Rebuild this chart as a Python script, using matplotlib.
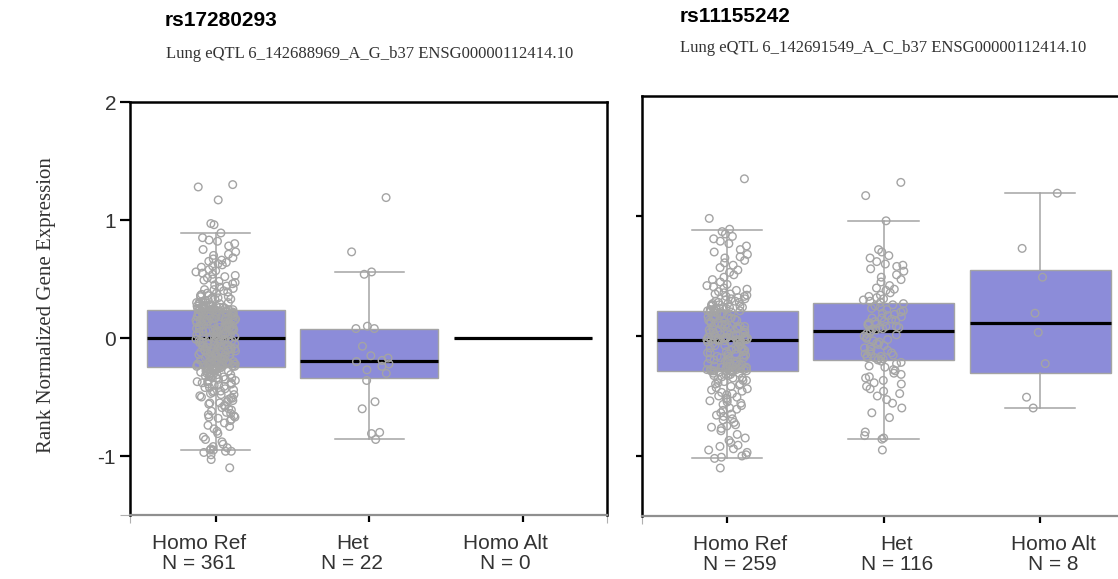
import matplotlib
matplotlib.use('Agg')
import matplotlib.pyplot as plt
import matplotlib.transforms as mtransforms
import numpy as np

plt.rcParams['font.family'] = ['Liberation Sans', 'DejaVu Sans']

groups = ['Homo Ref', 'Het', 'Homo Alt']

# ---- rs17280293 (left panel) ----
left_counts = [361, 22, 0]
left_ref = [
    1.30, 1.28, 1.17, 0.97, 0.96, 0.89, 0.85, 0.83, 0.82, 0.80,
    0.78, 0.75, 0.73, 0.71, 0.70, 0.68, 0.67, 0.66, 0.65, 0.64,
    0.63, 0.62, 0.61, 0.60, 0.58, 0.57, 0.56, 0.55, 0.54, 0.53,
    0.52, 0.51, 0.50, 0.49, 0.48, 0.47, 0.46, 0.45, 0.44, 0.43,
    0.42, 0.41, 0.41, 0.40, 0.39, 0.38, 0.38, 0.37, 0.36, 0.36,
    0.35, 0.35, 0.34, 0.34, 0.33, 0.33, 0.32, 0.32, 0.31, 0.31,
    0.30, 0.30, 0.30, 0.29, 0.29, 0.29, 0.28, 0.28, 0.28, 0.27,
    0.27, 0.27, 0.27, 0.26, 0.26, 0.26, 0.26, 0.25, 0.25, 0.25,
    0.25, 0.25, 0.24, 0.24, 0.24, 0.24, 0.24, 0.24, 0.24, 0.24,
    0.23, 0.23, 0.23, 0.22, 0.22, 0.22, 0.22, 0.21, 0.21, 0.21,
    0.21, 0.20, 0.20, 0.20, 0.20, 0.19, 0.19, 0.19, 0.19, 0.18,
    0.18, 0.18, 0.18, 0.17, 0.17, 0.17, 0.17, 0.16, 0.16, 0.16,
    0.16, 0.15, 0.15, 0.15, 0.15, 0.14, 0.14, 0.14, 0.14, 0.13,
    0.13, 0.13, 0.13, 0.12, 0.12, 0.12, 0.12, 0.11, 0.11, 0.11,
    0.11, 0.10, 0.10, 0.10, 0.10, 0.09, 0.09, 0.09, 0.08, 0.08,
    0.08, 0.08, 0.07, 0.07, 0.07, 0.07, 0.06, 0.06, 0.06, 0.06,
    0.05, 0.05, 0.05, 0.05, 0.04, 0.04, 0.04, 0.04, 0.03, 0.03,
    0.03, 0.03, 0.02, 0.02, 0.02, 0.02, 0.01, 0.01, 0.01, 0.01,
    0.00,
    -0.01, -0.01, -0.01, -0.02, -0.02, -0.02, -0.03, -0.03, -0.03, -0.04,
    -0.04, -0.04, -0.05, -0.05, -0.05, -0.06, -0.06, -0.06, -0.07, -0.07,
    -0.07, -0.08, -0.08, -0.08, -0.08, -0.09, -0.09, -0.09, -0.10, -0.10,
    -0.10, -0.10, -0.11, -0.11, -0.11, -0.12, -0.12, -0.12, -0.12, -0.13,
    -0.13, -0.13, -0.14, -0.14, -0.14, -0.14, -0.15, -0.15, -0.15, -0.16,
    -0.16, -0.16, -0.16, -0.17, -0.17, -0.17, -0.18, -0.18, -0.18, -0.18,
    -0.19, -0.19, -0.19, -0.20, -0.20, -0.20, -0.20, -0.21, -0.21, -0.21,
    -0.21, -0.22, -0.22, -0.22, -0.22, -0.23, -0.23, -0.23, -0.23, -0.23,
    -0.24, -0.24, -0.24, -0.24, -0.24, -0.24, -0.25, -0.25, -0.25, -0.25,
    -0.26, -0.26, -0.27, -0.27, -0.27, -0.28, -0.28, -0.28, -0.29, -0.29,
    -0.30, -0.30, -0.30, -0.31, -0.31, -0.32, -0.32, -0.33, -0.33, -0.34,
    -0.34, -0.35, -0.35, -0.36, -0.36, -0.37, -0.37, -0.38, -0.38, -0.39,
    -0.39, -0.40, -0.40, -0.41, -0.42, -0.42, -0.43, -0.44, -0.45, -0.45,
    -0.46, -0.47, -0.48, -0.48, -0.49, -0.50, -0.51, -0.51, -0.52, -0.53,
    -0.54, -0.55, -0.55, -0.56, -0.57, -0.58, -0.59, -0.60, -0.61, -0.62,
    -0.63, -0.64, -0.65, -0.66, -0.67, -0.67, -0.68, -0.69, -0.70, -0.72,
    -0.74, -0.75, -0.77, -0.79, -0.81, -0.84, -0.86, -0.88, -0.90, -0.92,
    -0.93, -0.94, -0.95, -0.95, -0.96, -0.96, -0.97, -0.99, -1.03, -1.10,
]
left_het = [1.19, 0.73, 0.56, 0.54, 0.10, 0.08, 0.08, -0.07, -0.15, -0.17, -0.19,
            -0.20, -0.22, -0.24, -0.27, -0.30, -0.36, -0.54, -0.60, -0.80, -0.81, -0.86]
left_alt = []
left_q1 = [-0.246, -0.34, 0.0]
left_med = [0.0, -0.195, 0.0]
left_q3 = [0.237, 0.076, 0.0]
left_lo = [-0.95, -0.855, 0.0]
left_hi = [0.89, 0.56, 0.0]

# ---- rs11155242 (right panel) ----
right_counts = [259, 116, 8]
right_ref = [
    1.31, 0.98, 0.89, 0.87, 0.85, 0.83, 0.81, 0.79, 0.77, 0.75,
    0.72, 0.70, 0.68, 0.66, 0.65, 0.63, 0.61, 0.59, 0.57, 0.55,
    0.53, 0.51, 0.49, 0.47, 0.45, 0.43, 0.42, 0.41, 0.40, 0.39,
    0.38, 0.37, 0.36, 0.35, 0.35, 0.34, 0.33, 0.33, 0.32, 0.31,
    0.31, 0.30, 0.29, 0.29, 0.28, 0.28, 0.27, 0.27, 0.26, 0.26,
    0.25, 0.25, 0.24, 0.24, 0.24, 0.23, 0.23, 0.23, 0.22, 0.22,
    0.22, 0.21, 0.21, 0.21,
    0.20, 0.20, 0.19, 0.19, 0.18, 0.18, 0.17, 0.17, 0.16, 0.16,
    0.15, 0.15, 0.14, 0.14, 0.13, 0.13, 0.12, 0.12, 0.11, 0.11,
    0.10, 0.10, 0.09, 0.09, 0.08, 0.08, 0.07, 0.07, 0.07, 0.06,
    0.06, 0.05, 0.05, 0.05, 0.04, 0.04, 0.03, 0.03, 0.03, 0.02,
    0.02, 0.01, 0.01, 0.01, 0.00, 0.00, 0.00, -0.01, -0.01, -0.01,
    -0.01, -0.02, -0.02, -0.02, -0.02, -0.03, -0.03, -0.03, -0.03, -0.03,
    -0.03, -0.03, -0.03, -0.03,
    -0.04,
    -0.04, -0.04, -0.05, -0.05, -0.05, -0.06, -0.06, -0.07, -0.07, -0.08,
    -0.08, -0.09, -0.09, -0.10, -0.10, -0.11, -0.11, -0.12, -0.12, -0.13,
    -0.13, -0.14, -0.14, -0.15, -0.15, -0.16, -0.16, -0.17, -0.17, -0.18,
    -0.18, -0.19, -0.19, -0.20, -0.20, -0.21, -0.21, -0.22, -0.22, -0.23,
    -0.23, -0.23, -0.24, -0.24, -0.25, -0.25, -0.25, -0.26, -0.26, -0.26,
    -0.27, -0.27, -0.27, -0.27, -0.28, -0.28, -0.28, -0.28, -0.29, -0.29,
    -0.29, -0.29, -0.29, -0.29, -0.29,
    -0.30, -0.30, -0.31, -0.31, -0.32, -0.32, -0.33, -0.33, -0.34, -0.35,
    -0.35, -0.36, -0.37, -0.37, -0.38, -0.39, -0.40, -0.40, -0.41, -0.42,
    -0.43, -0.44, -0.45, -0.46, -0.47, -0.48, -0.49, -0.50, -0.51, -0.52,
    -0.53, -0.54, -0.55, -0.56, -0.57, -0.58, -0.60, -0.61, -0.62, -0.64,
    -0.65, -0.66, -0.67, -0.69, -0.70, -0.72, -0.74, -0.75, -0.76, -0.77,
    -0.79, -0.82, -0.85, -0.87, -0.89, -0.91, -0.92, -0.94, -0.95, -0.97,
    -0.99, -1.00, -1.01, -1.02, -1.10,
]
right_het = [
    1.28, 1.17, 0.96, 0.72, 0.70, 0.67, 0.65, 0.62, 0.60, 0.59,
    0.58, 0.56, 0.54, 0.51, 0.49, 0.47, 0.45, 0.42, 0.40, 0.39,
    0.38, 0.36, 0.34, 0.33, 0.32, 0.31, 0.30, 0.29, 0.28,
    0.27, 0.26, 0.25, 0.24, 0.23, 0.22, 0.21, 0.20, 0.19, 0.18,
    0.17, 0.16, 0.15, 0.15, 0.14, 0.13, 0.12, 0.12, 0.11, 0.10,
    0.10, 0.09, 0.08, 0.08, 0.07, 0.07, 0.06, 0.06, 0.05,
    0.04,
    0.03, 0.02, 0.01, 0.00, -0.01, -0.02, -0.03, -0.04, -0.05, -0.06,
    -0.07, -0.08, -0.09, -0.10, -0.11, -0.12, -0.13, -0.14, -0.15, -0.15,
    -0.16, -0.17, -0.17, -0.18, -0.18, -0.19, -0.19, -0.20,
    -0.21, -0.22, -0.23, -0.25, -0.26, -0.28, -0.29, -0.31, -0.32, -0.34,
    -0.35, -0.37, -0.39, -0.40, -0.42, -0.44, -0.46, -0.48, -0.50, -0.53,
    -0.56, -0.60, -0.64, -0.68, -0.80, -0.83, -0.85, -0.86, -0.95,
]
right_alt = [1.19, 0.73, 0.49, 0.19, 0.03, -0.23, -0.51, -0.60]
right_q1 = [-0.295, -0.203, -0.306]
right_med = [-0.036, 0.045, 0.108]
right_q3 = [0.206, 0.278, 0.548]
right_lo = [-1.018, -0.857, -0.60]
right_hi = [0.887, 0.962, 1.188]

BOX_FILL = '#8c8cd9'
GREY = '#a4a4a4'
TEXT = '#333333'

fig = plt.figure(figsize=(11.18, 5.79), dpi=100)
ax1 = fig.add_axes([130 / 1118, 1 - 515 / 579, 477 / 1118, 413 / 579])
ax2 = fig.add_axes([642 / 1118, 1 - 516 / 579, 492 / 1118, 420 / 579])


def strip_jitter(n, half):
    # deterministic scatter of strip offsets (layout only, like a stripplot jitter)
    k = np.arange(n) + 1.0
    u = (np.sin(k * 12.9898) * 43758.5453) % 1.0
    return (u - 0.5) * 2 * half


def draw_panel(ax, point_sets, q1, med, q3, lo, hi):
    stats = []
    for i in range(3):
        stats.append(dict(q1=q1[i], med=med[i], q3=q3[i], whislo=lo[i], whishi=hi[i], fliers=[]))
    ax.bxp(stats, positions=[0, 1, 2], widths=0.9, capwidths=0.45, patch_artist=True,
           showfliers=False,
           boxprops=dict(facecolor=BOX_FILL, edgecolor=GREY, linewidth=1.0),
           medianprops=dict(color='black', linewidth=2.3, solid_capstyle='butt', zorder=2.5),
           whiskerprops=dict(color=GREY, linewidth=1.1),
           capprops=dict(color=GREY, linewidth=1.1))
    for i, vals in enumerate(point_sets):
        if len(vals) == 0:
            continue
        jit = strip_jitter(len(vals), 0.13)
        ax.scatter(i + jit, vals, s=30, facecolors='none', edgecolors=GREY,
                   linewidths=1.0, zorder=3)
    ax.set_ylim(-1.5, 2)
    for side in ['top', 'left', 'right']:
        ax.spines[side].set_linewidth(1.8)
        ax.spines[side].set_color('black')
    ax.spines['bottom'].set_color('#8f8f8f')
    ax.spines['bottom'].set_linewidth(1.6)
    ax.set_xticks([0, 1, 2])
    ax.set_xticklabels([])
    ax.tick_params(axis='x', which='major', length=5, width=1.6, color='black')
    ax.tick_params(axis='x', which='minor', length=6, width=0.8, color='#b0b0b0')


draw_panel(ax1, [left_ref, left_het, left_alt], left_q1, left_med, left_q3, left_lo, left_hi)
draw_panel(ax2, [right_ref, right_het, right_alt], right_q1, right_med, right_q3, right_lo, right_hi)

ax1.set_xlim(-0.56, 2.55)
ax1.set_xticks([-0.56, 2.55], minor=True)
ax2.set_xlim(-0.545, 2.6)
ax2.set_xticks([-0.545], minor=True)
ax2.spines['right'].set_visible(False)

# y axes
ax1.set_yticks([-1, 0, 1, 2])
ax1.set_yticklabels(['-1', '0', '1', '2'], fontsize=15, color=TEXT)
ax1.tick_params(axis='y', which='major', length=7, width=1.6, color='black', pad=3)
ax1.yaxis.get_major_ticks()[3].tick1line.set_color('#a0a0a0')
ax1.set_yticks([-1.5], minor=True)
ax1.tick_params(axis='y', which='minor', length=7, width=0.8, color='#b0b0b0')

ax2.set_yticks([-1, 0, 1])
ax2.set_yticklabels([])
ax2.tick_params(axis='y', which='major', length=4, width=1.6, color='black')

# category labels below each panel
for ax, counts, dx in [(ax1, left_counts, -17), (ax2, right_counts, 13)]:
    tr = mtransforms.offset_copy(ax.get_xaxis_transform(), fig=fig, x=dx, y=-19, units='dots')
    for i, (g, n) in enumerate(zip(groups, counts)):
        ax.text(i, 0, f'{g}\nN = {n}', transform=tr, ha='center', va='top',
                fontsize=15, color=TEXT, linespacing=1.05, clip_on=False)

# titles
fig.text(165 / 1118, 1 - 21 / 579, 'rs17280293', fontsize=15, fontweight='bold',
         ha='left', va='center', color='black')
fig.text(166 / 1118, 1 - 54 / 579, 'Lung eQTL 6_142688969_A_G_b37 ENSG00000112414.10',
         family='Liberation Serif', fontsize=12, ha='left', va='center', color=TEXT)
fig.text(680 / 1118, 1 - 17 / 579, 'rs11155242', fontsize=15, fontweight='bold',
         ha='left', va='center', color='black')
fig.text(680 / 1118, 1 - 48 / 579, 'Lung eQTL 6_142691549_A_C_b37 ENSG00000112414.10',
         family='Liberation Serif', fontsize=12, ha='left', va='center', color=TEXT)

fig.text(47 / 1118, 1 - 305 / 579, 'Rank Normalized Gene Expression',
         family='Liberation Serif', fontsize=15, rotation=90, ha='center', va='center', color=TEXT)

fig.savefig('out.png', dpi=100)
